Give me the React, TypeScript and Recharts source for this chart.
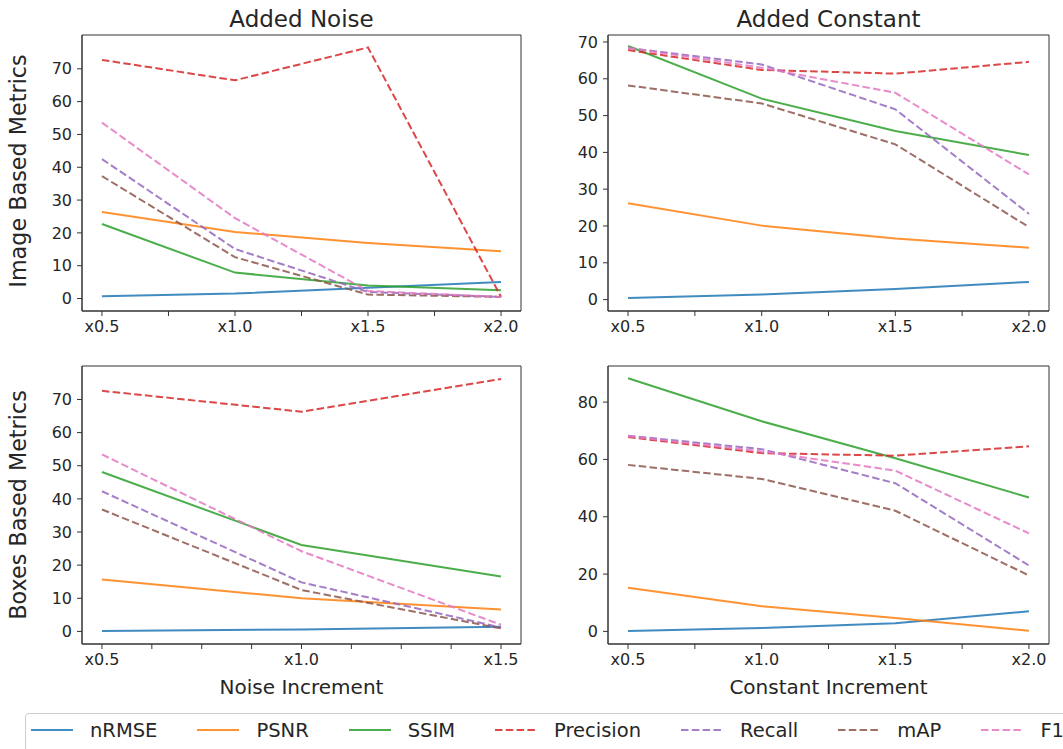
import React from "react";
import { LineChart, Line, XAxis, YAxis, ReferenceArea } from "recharts";

const metrics = ["nRMSE", "PSNR", "SSIM", "Precision", "Recall", "mAP", "F1"];
const colors = ["#1f77b4", "#ff7f0e", "#2ca02c", "#d62728", "#9467bd", "#8c564b", "#e377c2"];
const dashedMetrics = ["Precision", "Recall", "mAP", "F1"];

const levels4 = ["x0.5", "x1.0", "x1.5", "x2.0"];
const levels3 = ["x0.5", "x1.0", "x1.5"];

// image based metrics, added noise
const noiseImage: Record<string, number[]> = {
  nRMSE: [0.7, 1.5, 3.3, 5.0],
  PSNR: [26.4, 20.3, 16.9, 14.4],
  SSIM: [22.7, 7.9, 4.0, 2.5],
  Precision: [72.7, 66.5, 76.5, 0.5],
  Recall: [42.5, 15.1, 2.0, 0.5],
  mAP: [37.3, 12.6, 1.2, 0.5],
  F1: [53.6, 24.5, 2.3, 0.5],
};

// image based metrics, added constant
const constImage: Record<string, number[]> = {
  nRMSE: [0.4, 1.4, 2.9, 4.8],
  PSNR: [26.2, 20.1, 16.6, 14.1],
  SSIM: [68.9, 54.6, 45.8, 39.3],
  Precision: [67.8, 62.4, 61.4, 64.6],
  Recall: [68.4, 63.9, 51.7, 23.3],
  mAP: [58.2, 53.3, 42.2, 19.7],
  F1: [68.4, 63.0, 56.2, 34.0],
};

// boxes based metrics, added noise
const noiseBoxes: Record<string, number[]> = {
  nRMSE: [0.1, 0.6, 1.4],
  PSNR: [15.7, 10.0, 6.6],
  SSIM: [48.1, 26.1, 16.6],
  Precision: [72.6, 66.3, 76.2],
  Recall: [42.3, 14.8, 1.2],
  mAP: [36.8, 12.5, 0.9],
  F1: [53.4, 24.2, 2.0],
};

// boxes based metrics, added constant
const constBoxes: Record<string, number[]> = {
  nRMSE: [0.1, 1.2, 2.8, 7.0],
  PSNR: [15.2, 8.8, 4.7, 0.2],
  SSIM: [88.3, 73.3, 60.4, 46.7],
  Precision: [67.8, 62.2, 61.3, 64.6],
  Recall: [68.3, 63.6, 51.7, 23.0],
  mAP: [58.1, 53.2, 42.1, 19.5],
  F1: [68.1, 62.8, 56.1, 34.2],
};

const yTicks70 = [0, 10, 20, 30, 40, 50, 60, 70];
const yTicks80 = [0, 20, 40, 60, 80];

const FONT = "DejaVu Sans, sans-serif";
const TEXT = "#262626";
const SPINE = "#333";

function toRows(labels: string[], values: Record<string, number[]>) {
  return labels.map((label, i) => {
    const row: Record<string, any> = { i, label };
    metrics.forEach((m) => (row[m] = values[m][i]));
    return row;
  });
}

interface PanelProps {
  x: number;
  y: number;
  w: number;
  h: number;
  labels: string[];
  values: Record<string, number[]>;
  xTickStep: number;
  yTicks: number[];
  yDomain: [number, number];
}

function Panel({ x, y, w, h, labels, values, xTickStep, yTicks, yDomain }: PanelProps) {
  const padL = 55, padR = 10, padT = 10, padB = 40;
  const n = labels.length;
  const margin = 0.05 * (n - 1);
  const xDomain: [number, number] = [-margin, n - 1 + margin];
  const xTicks: number[] = [];
  for (let t = 0; t <= n - 1 + 1e-9; t += xTickStep) xTicks.push(Math.round(t * 1000) / 1000);
  const data = toRows(labels, values);
  const tickStyle = { fill: TEXT, fontSize: 16, fontFamily: FONT };

  return (
    <div style={{ position: "absolute", left: x - padL, top: y - padT }}>
      <LineChart
        width={w + padL + padR}
        height={h + padT + padB}
        data={data}
        margin={{ top: padT, right: padR, left: padL - 50, bottom: padB - 30 }}
      >
        <XAxis
          xAxisId="b"
          dataKey="i"
          type="number"
          domain={xDomain}
          allowDataOverflow
          ticks={xTicks}
          interval={0}
          height={30}
          tickSize={5}
          tickMargin={5}
          stroke={SPINE}
          tick={tickStyle}
          tickFormatter={(v: number) => (Number.isInteger(v) ? labels[v] : "")}
        />
        <YAxis
          yAxisId="l"
          type="number"
          domain={yDomain}
          allowDataOverflow
          ticks={yTicks}
          interval={0}
          width={50}
          tickSize={5}
          tickMargin={5}
          stroke={SPINE}
          tick={tickStyle}
        />
        <ReferenceArea
          xAxisId="b"
          yAxisId="l"
          x1={xDomain[0]}
          x2={xDomain[1]}
          y1={yDomain[0]}
          y2={yDomain[1]}
          fill="none"
          stroke={SPINE}
          strokeWidth={1}
        />
        {metrics.map((m, k) => (
          <Line
            key={m}
            xAxisId="b"
            yAxisId="l"
            type="linear"
            dataKey={m}
            stroke={colors[k]}
            strokeOpacity={0.85}
            strokeWidth={2}
            strokeDasharray={dashedMetrics.includes(m) ? "7.5 3.3" : undefined}
            dot={false}
            isAnimationActive={false}
          />
        ))}
      </LineChart>
    </div>
  );
}

function LegendBox() {
  return (
    <div
      style={{
        position: "absolute",
        left: 25,
        top: 713,
        width: 1060,
        height: 48,
        border: "1px solid #cccccc",
        borderRadius: 4,
        boxSizing: "border-box",
        display: "flex",
        alignItems: "center",
        paddingLeft: 5,
        fontFamily: FONT,
        fontSize: 19.5,
        color: TEXT,
        whiteSpace: "nowrap",
      }}
    >
      {metrics.map((m, k) => (
        <div key={m} style={{ display: "flex", alignItems: "center", marginRight: 40, marginTop: -14 }}>
          <svg width={42} height={6} style={{ marginRight: 17 }}>
            <line
              x1={0}
              y1={3}
              x2={42}
              y2={3}
              stroke={colors[k]}
              strokeOpacity={0.85}
              strokeWidth={2}
              strokeDasharray={dashedMetrics.includes(m) ? "7.5 3.3" : undefined}
            />
          </svg>
          <span>{m}</span>
        </div>
      ))}
    </div>
  );
}

export default function App() {
  return (
    <div style={{ position: "relative", width: 1063, height: 749, overflow: "hidden", background: "#fff", fontFamily: FONT }}>
      <style>{`body{margin:0}`}</style>
      <svg width={1063} height={749} style={{ position: "absolute", left: 0, top: 0 }}>
        <g fill={TEXT} fontFamily={FONT} textAnchor="middle">
          <text x={301.5} y={27} fontSize={23}>Added Noise</text>
          <text x={828.5} y={27} fontSize={23}>Added Constant</text>
          <text x={301.5} y={694} fontSize={20}>Noise Increment</text>
          <text x={828.5} y={694} fontSize={20}>Constant Increment</text>
          <text transform="translate(26,171) rotate(-90)" fontSize={22.3}>Image Based Metrics</text>
          <text transform="translate(26,505) rotate(-90)" fontSize={22.3}>Boxes Based Metrics</text>
        </g>
      </svg>
      <Panel x={82} y={35} w={439} h={276} labels={levels4} values={noiseImage} xTickStep={0.5} yTicks={yTicks70} yDomain={[-3.8, 80.3]} />
      <Panel x={608} y={35} w={441} h={276} labels={levels4} values={constImage} xTickStep={0.5} yTicks={yTicks70} yDomain={[-3.1, 71.9]} />
      <Panel x={82} y={366} w={439} h={278} labels={levels3} values={noiseBoxes} xTickStep={0.25} yTicks={yTicks70} yDomain={[-3.8, 80.1]} />
      <Panel x={608} y={366} w={441} h={278} labels={levels4} values={constBoxes} xTickStep={0.5} yTicks={yTicks80} yDomain={[-4.4, 92.6]} />
      <LegendBox />
    </div>
  );
}
